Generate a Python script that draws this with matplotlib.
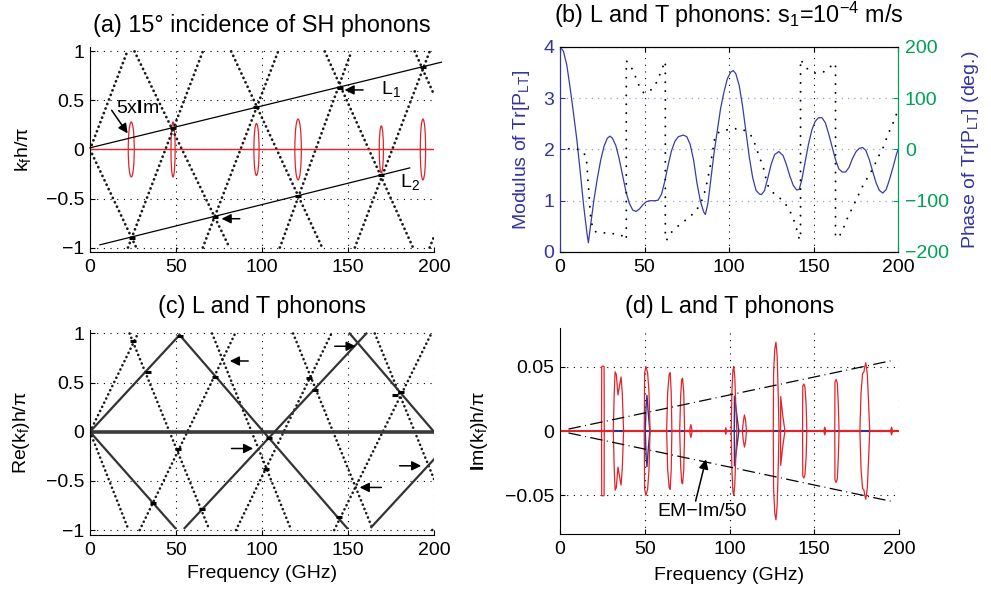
import matplotlib
matplotlib.use("Agg")
import matplotlib.pyplot as plt
from matplotlib.patches import Ellipse

plt.rcParams['font.family'] = ['Liberation Sans', 'DejaVu Sans']
plt.rcParams['font.size'] = 14
plt.rcParams['mathtext.fontset'] = 'custom'
plt.rcParams['mathtext.rm'] = 'Liberation Sans'
plt.rcParams['mathtext.it'] = 'Liberation Sans:italic'
plt.rcParams['mathtext.bf'] = 'Liberation Sans:bold'
plt.rcParams['mathtext.default'] = 'regular'

RED = '#e3232a'
BLUE = '#34349c'
GREEN = '#00a055'

# ---- shared ticks
freq_ticks = [0, 50, 100, 150, 200]
freq_labels = ['0', '50', '100', '150', '200']
k_ticks = [-1, -0.5, 0, 0.5, 1]
k_labels = ['\u22121', '\u22120.5', '0', '0.5', '1']

# ---- (a) 15 deg SH phonons: dotted band lines (segment end points)
a_f0 = [0, 22.1, 65.6, 110.4, 154.0, 197.5, 0, 25.9, 82.1, 136.5, 188.8]
a_k0 = [0, -1, -1, -1, -1, -1, 0, 1, 1, 1, 1]
a_f1 = [21.7, 65.6, 109.4, 152.0, 197.5, 200, 26.9, 81.1, 135.0, 187.8, 200]
a_k1 = [1, 1, 1, 1, 1, -0.89, -1, -1, -1, -1, 0.56]
l1_f = [0, 204.3]
l1_k = [0.017, 0.89]
l2_f = [5.8, 185.9]
l2_k = [-0.972, -0.188]
a_lens_f = [24.0, 48.3, 96.8, 121.0, 169.4, 193.6]
a_lens_hw = [1.75, 1.2, 1.5, 1.9, 1.2, 1.55]
a_lens_h = [0.28, 0.28, 0.265, 0.31, 0.24, 0.31]
a_mark_f = [48.2, 96.8, 145.2, 193.6, 24.4, 72.4, 121.0, 169.4]
a_mark_k = [0.215, 0.43, 0.63, 0.845, -0.90, -0.69, -0.47, -0.26]

# ---- (b) modulus and phase of Tr[P_LT]
b_mod_f = [0, 2, 4, 6, 8, 10, 12, 14, 16, 16.8, 18, 20, 22, 24, 26, 28, 29.6, 31, 33, 35,
           37, 39, 41, 43, 45, 47, 49, 51, 53, 56, 58, 60, 62, 64, 66, 68, 70, 73, 75, 77,
           79, 81, 83, 85, 86, 87.5, 89, 91, 93, 95, 97, 99, 101, 102.5, 104, 106, 108, 110,
           112, 114, 116, 118, 119.2, 121, 123, 125, 127, 129.5, 132, 134, 136, 138, 140,
           141.5, 143, 145, 147, 149, 151, 153, 155, 157, 159, 161, 163, 165, 167, 169, 171,
           173, 175, 177, 179, 181, 183, 185, 187, 189, 191, 193, 195, 197, 199, 200]
b_mod_v = [4.00, 3.92, 3.65, 3.20, 2.70, 2.18, 1.55, 0.90, 0.35, 0.18, 0.50, 1.00, 1.42, 1.78,
           2.06, 2.22, 2.26, 2.22, 2.08, 1.82, 1.50, 1.18, 0.95, 0.82, 0.79, 0.84, 0.92, 0.98,
           1.00, 1.00, 1.01, 1.12, 1.38, 1.70, 1.98, 2.16, 2.25, 2.28, 2.25, 2.10, 1.80, 1.35,
           1.00, 0.78, 0.73, 0.95, 1.35, 1.90, 2.35, 2.80, 3.12, 3.38, 3.51, 3.54, 3.48, 3.25,
           2.85, 2.35, 1.85, 1.45, 1.20, 1.13, 1.12, 1.20, 1.45, 1.72, 1.90, 1.96, 1.88, 1.70,
           1.48, 1.30, 1.21, 1.22, 1.40, 1.75, 2.10, 2.38, 2.55, 2.62, 2.62, 2.52, 2.30, 2.05,
           1.80, 1.62, 1.56, 1.56, 1.65, 1.82, 1.95, 2.02, 2.04, 1.98, 1.80, 1.57, 1.35, 1.20,
           1.15, 1.22, 1.42, 1.65, 1.90, 2.00]
b_ph_f = [0, 4, 8, 12, 14, 15.6, 16.1, 16.5, 17.1, 17.5, 17.9, 18.5, 20.4, 24, 27.2, 30.5,
          33.5, 36.5, 38.9, 39.2, 39.2, 41.8, 44.4, 46.7, 49.6, 52, 54.5, 56.5, 58, 60.3, 61.9,
          62.3, 62.3, 63.2, 66.1, 71, 75.9, 80.7, 83.7, 86, 88.5, 91.4, 93, 96.2, 101.9, 108.3,
          112.9, 115.4, 117.9, 120.2, 122.7, 126.3, 131.2, 135.2, 137.9, 139.8, 141.3, 142.3,
          142.3, 145.6, 151, 156.7, 161.5, 163, 163, 165.5, 167.5, 170.4, 173.4, 176.4, 179.3,
          182.3, 185.2, 188.2, 191.1, 194.1, 197, 200]
b_ph_v = [0, 1, 2, -1, -6, -17, -37, -60, -85, -104, -124, -142, -160, -162, -163, -164,
          -165, -168, -176, -176, 173, 163, 144, 125, 110, 112, 118, 127, 137, 157, 170,
          172, -176, -176, -161, -146, -134, -119, -101, -79, -40, 19, 32, 36, 41, 39,
          28, 10, -14, -34, -69, -85, -98, -114, -134, -153, -172, -176,
          176, 159, 149, 152, 166, 168, -172, -168, -155, -131, -111, -90, -70,
          -53, -37, -15, 3, 30, 51, 77]
mod_ticks = [0, 1, 2, 3, 4]
phase_ticks = [-200, -100, 0, 100, 200]
phase_labels = ['\u2212200', '\u2212100', '0', '100', '200']

# ---- (c) L and T phonons, real part
c_f0 = [0, 28.9, 84.9, 142.0, 199.0, 0, 23.0, 71.0, 118.1, 165.6]
c_k0 = [0, -1, -1, -1, -1, 0, 1, 1, 1, 1]
c_f1 = [27.9, 84.4, 140.4, 198.5, 200, 22.5, 69.5, 117.0, 164.6, 200]
c_k1 = [1, 1, 1, 1, -0.96, -1, -1, -1, -1, -0.48]
cs_f0 = [0, 52.1, 0, 55.0, 151.0, 163.6]
cs_k0 = [0, 0.985, 0, -0.98, 1.0, -0.97]
cs_f1 = [52.1, 149.5, 49.6, 160.7, 200, 200]
cs_k1 = [0.985, -0.98, -0.98, 1.0, 0.0, -0.28]
c_mark_f = [25.2, 33.5, 52.3, 72.4, 36.4, 51.0, 65.0, 102.6, 103.8, 127.5, 130.8, 144.5, 177.5, 181.0]
c_mark_k = [0.92, 0.61, 0.975, 0.56, -0.72, -0.18, -0.79, -0.38, -0.06, 0.55, 0.42, -0.87, 0.37, 0.40]
c_arrow_tail = [(92.0, 0.72), (142.3, 0.87), (82.3, -0.17), (169.4, -0.566), (180.0, -0.346)]
c_arrow_tip = [(81.3, 0.72), (154.5, 0.87), (94.9, -0.17), (156.8, -0.566), (192.6, -0.346)]

# ---- (d) L and T phonons, imaginary part (upper outlines, mirrored below)
d_red_f = [
    [24.5, 24.6, 25.3, 26.0, 26.1],
    [31.4, 32.0, 32.5, 33.2, 34.2, 35.2, 36.0, 36.7, 37.5],
    [49.7, 49.9, 50.7, 51.7, 52.5, 53.1],
    [62.9, 63.5, 64.4, 65.0, 65.6, 66.0],
    [70.6, 71.2, 71.8, 72.3, 73.0, 73.5],
    [76.4, 77.2, 78.0],
    [97.3, 97.8, 98.3],
    [101.0, 101.4, 102.0, 102.5, 103.1, 103.7, 104.3],
    [107.6, 108.2, 108.8, 109.5, 110.0],
    [125.8, 126.0, 126.7, 127.4, 128.1, 128.7, 129.2],
    [130.1, 130.2, 131.4, 132.7],
    [143.1, 143.2, 143.9, 144.5, 145.2, 145.6],
    [155.6, 156.2, 156.8],
    [162.1, 162.2, 162.9, 163.6, 164.2, 164.6],
    [176.9, 177.6, 178.5, 179.3, 179.8, 180.4, 181.3, 182.1, 182.7],
    [195.0, 195.6, 196.2],
]
d_red_im = [
    [0, 0.050, 0.0505, 0.050, 0],
    [0, 0.030, 0.046, 0.044, 0.028, 0.036, 0.042, 0.030, 0],
    [0, 0.045, 0.050, 0.045, 0.030, 0],
    [0, 0.030, 0.044, 0.0453, 0.030, 0],
    [0, 0.028, 0.040, 0.041, 0.030, 0],
    [0, 0.005, 0],
    [0, 0.0025, 0],
    [0, 0.030, 0.047, 0.050, 0.042, 0.020, 0],
    [0, 0.008, 0.0125, 0.008, 0],
    [0, 0.045, 0.064, 0.069, 0.058, 0.030, 0],
    [0, 0.0267, 0.012, 0],
    [0, 0.035, 0.0365, 0.034, 0.020, 0],
    [0, 0.003, 0],
    [0, 0.038, 0.040, 0.037, 0.020, 0],
    [0, 0.030, 0.0446, 0.046, 0.050, 0.053, 0.044, 0.020, 0],
    [0, 0.003, 0],
]
d_blue_f = [[50.3, 50.8, 51.3, 52.0, 53.0], [102.8, 102.9, 105.5]]
d_blue_im = [[0, 0.020, 0.0277, 0.015, 0], [0, 0.027, 0]]
em_f = [5, 195]
em_im = [0.0015, 0.0545]
d_ticks = [-0.05, 0, 0.05]
d_labels = ['\u22120.05', '0', '0.05']

DOTS = (0, (0.05, 1.7))
GRID = (0, (1, 5))
arrow_kw = dict(arrowstyle='-|>', color='k', lw=1.1, mutation_scale=14, shrinkA=0, shrinkB=0)


def open_box(ax):
    for s in ('top', 'right'):
        ax.spines[s].set_visible(False)
    ax.tick_params(direction='in', length=3.5, width=0.8)
    ax.tick_params(axis='x', pad=5)
    ax.tick_params(axis='y', pad=4)
    ax.grid(True, color='k', lw=0.8, linestyle=GRID)
    ax.set_axisbelow(True)


fig = plt.figure(figsize=(9.91, 5.94), dpi=100)
ax_a = fig.add_axes([0.0908, 0.5758, 0.3471, 0.3451])
ax_b = fig.add_axes([0.5651, 0.5758, 0.3411, 0.3451])
ax_c = fig.add_axes([0.0908, 0.0993, 0.3471, 0.3451])
ax_d = fig.add_axes([0.5651, 0.1010, 0.3421, 0.3468])

# ---------------- (a)
for f0, k0, f1, k1 in zip(a_f0, a_k0, a_f1, a_k1):
    ax_a.plot([f0, f1], [k0, k1], color='#1a1a1a', lw=2.0, linestyle=DOTS, dash_capstyle='round')
ax_a.plot([0, 200], [0, 0], color=RED, lw=1.0)
for fc, hw, h in zip(a_lens_f, a_lens_hw, a_lens_h):
    ax_a.add_patch(Ellipse((fc, 0), 2 * hw, 2 * h, fill=False, ec=RED, lw=0.9))
ax_a.plot(l1_f, l1_k, color='k', lw=0.9, clip_on=False)
ax_a.plot(l2_f, l2_k, color='k', lw=0.9)
ax_a.plot(a_mark_f, a_mark_k, ls='none', marker='_', ms=5, mew=2.2, color='k')
ax_a.annotate('', xy=(21.9, 0.164), xytext=(12.6, 0.40), arrowprops=arrow_kw)
ax_a.text(27.5, 0.42, '5x$\\mathbf{I}$m', ha='center', va='center')
ax_a.annotate('', xy=(148.0, 0.607), xytext=(158.8, 0.607), arrowprops=arrow_kw)
ax_a.annotate('', xy=(76.5, -0.706), xytext=(87.1, -0.706), arrowprops=arrow_kw)
ax_a.text(169.4, 0.62, 'L$_1$', ha='left', va='center')
ax_a.text(180.0, -0.33, 'L$_2$', ha='left', va='center')
ax_a.set_xlim(0, 200)
ax_a.set_ylim(-1.045, 1.045)
ax_a.set_xticks(freq_ticks, freq_labels)
ax_a.set_yticks(k_ticks, k_labels)
open_box(ax_a)
ax_a.set_ylabel('k$_f$h/\u03c0')
ax_a.yaxis.set_label_coords(-0.166, 0.5)
ax_a.set_title('(a) 15\u00b0 incidence of SH phonons', pad=11)

# ---------------- (b)
ax_b.plot(b_mod_f, b_mod_v, color='#3b3ba8', lw=0.9)
ax_b.set_xlim(0, 200)
ax_b.set_ylim(0, 4)
ax_b.set_xticks(freq_ticks, freq_labels)
ax_b.set_yticks(mod_ticks)
ax_b.xaxis.grid(True, color='k', lw=0.8, linestyle=GRID)
ax_b.yaxis.grid(True, color='#9d9de3', lw=0.9, linestyle=(0, (1, 4)))
ax_b.set_axisbelow(True)
ax_b.tick_params(direction='in', length=3.5, width=0.8)
ax_b.tick_params(axis='x', pad=5, top=True)
ax_b.tick_params(axis='y', pad=4, colors=BLUE)
ax_b.set_ylabel('Modulus of Tr[P$_{LT}$]', color=BLUE)
ax_b.yaxis.set_label_coords(-0.084, 0.5)
ax_b2 = ax_b.twinx()
ax_b2.plot(b_ph_f, b_ph_v, color='k', lw=1.4, linestyle=(0, (0.05, 4.5)), dash_capstyle='round')
ax_b2.set_ylim(-200, 200)
ax_b2.set_yticks(phase_ticks, phase_labels)
ax_b2.tick_params(axis='y', direction='in', length=3.5, width=0.8, pad=5, colors=GREEN)
ax_b2.set_ylabel('Phase of Tr[P$_{LT}$] (deg.)', color=BLUE)
ax_b2.yaxis.set_label_coords(1.183, 0.5)
for a in (ax_b, ax_b2):
    a.spines['left'].set_color(BLUE)
    a.spines['right'].set_color(GREEN)
ax_b.set_title('(b) L and T phonons: s$_1$=10$^{-4}$ m/s', pad=17)

# ---------------- (c)
for f0, k0, f1, k1 in zip(c_f0, c_k0, c_f1, c_k1):
    ax_c.plot([f0, f1], [k0, k1], color='#1a1a1a', lw=1.9, linestyle=DOTS, dash_capstyle='round')
ax_c.plot([0, 200], [0, 0], color='#3a3a3a', lw=2.6)
for f0, k0, f1, k1 in zip(cs_f0, cs_k0, cs_f1, cs_k1):
    ax_c.plot([f0, f1], [k0, k1], color='#333333', lw=1.6)
ax_c.plot(c_mark_f, c_mark_k, ls='none', marker='_', ms=5, mew=2.2, color='k')
for tail, tip in zip(c_arrow_tail, c_arrow_tip):
    ax_c.annotate('', xy=tip, xytext=tail, arrowprops=arrow_kw)
ax_c.set_xlim(0, 200)
ax_c.set_ylim(-1.05, 1.035)
ax_c.set_xticks(freq_ticks, freq_labels)
ax_c.set_yticks(k_ticks, k_labels)
open_box(ax_c)
ax_c.set_ylabel('Re(k$_f$)h/\u03c0')
ax_c.yaxis.set_label_coords(-0.17, 0.5)
ax_c.set_xlabel('Frequency (GHz)')
ax_c.xaxis.set_label_coords(0.5, -0.146)
ax_c.set_title('(c) L and T phonons', pad=12.5)

# ---------------- (d)
ax_d.plot([24.5, 200], [0, 0], color='#2b3590', lw=1.5)
starts = [f[0] for f in d_red_f] + [200]
ends = [0] + [f[-1] for f in d_red_f]
for e, s in zip(ends, starts):
    ax_d.plot([e, s], [0, 0], color=RED, lw=1.5)
for fs, ims in zip(d_blue_f, d_blue_im):
    ax_d.plot(fs + fs[::-1], ims + [-v for v in ims[::-1]], color='#2b3590', lw=1.0)
for fs, ims in zip(d_red_f, d_red_im):
    ax_d.plot(fs + fs[::-1], ims + [-v for v in ims[::-1]], color=RED, lw=0.9)
em_style = dict(color='k', lw=0.9, linestyle=(0, (10, 3.5, 0.8, 3.5)))
ax_d.plot(em_f, em_im, **em_style)
ax_d.plot(em_f, [-v for v in em_im], **em_style)
ax_d.annotate('', xy=(86.1, -0.022), xytext=(80.0, -0.0544), arrowprops=arrow_kw)
ax_d.text(83.6, -0.0622, 'EM\u2212Im/50', ha='center', va='center')
ax_d.set_xlim(0, 200)
ax_d.set_ylim(-0.08, 0.08)
ax_d.set_xticks(freq_ticks, freq_labels)
ax_d.set_yticks(d_ticks, d_labels)
open_box(ax_d)
ax_d.set_ylabel('$\\mathbf{I}$m(k$_f$)h/\u03c0')
ax_d.yaxis.set_label_coords(-0.206, 0.5)
ax_d.set_xlabel('Frequency (GHz)')
ax_d.xaxis.set_label_coords(0.5, -0.158)
ax_d.set_title('(d) L and T phonons', pad=11)

fig.savefig('out.png', dpi=100)
